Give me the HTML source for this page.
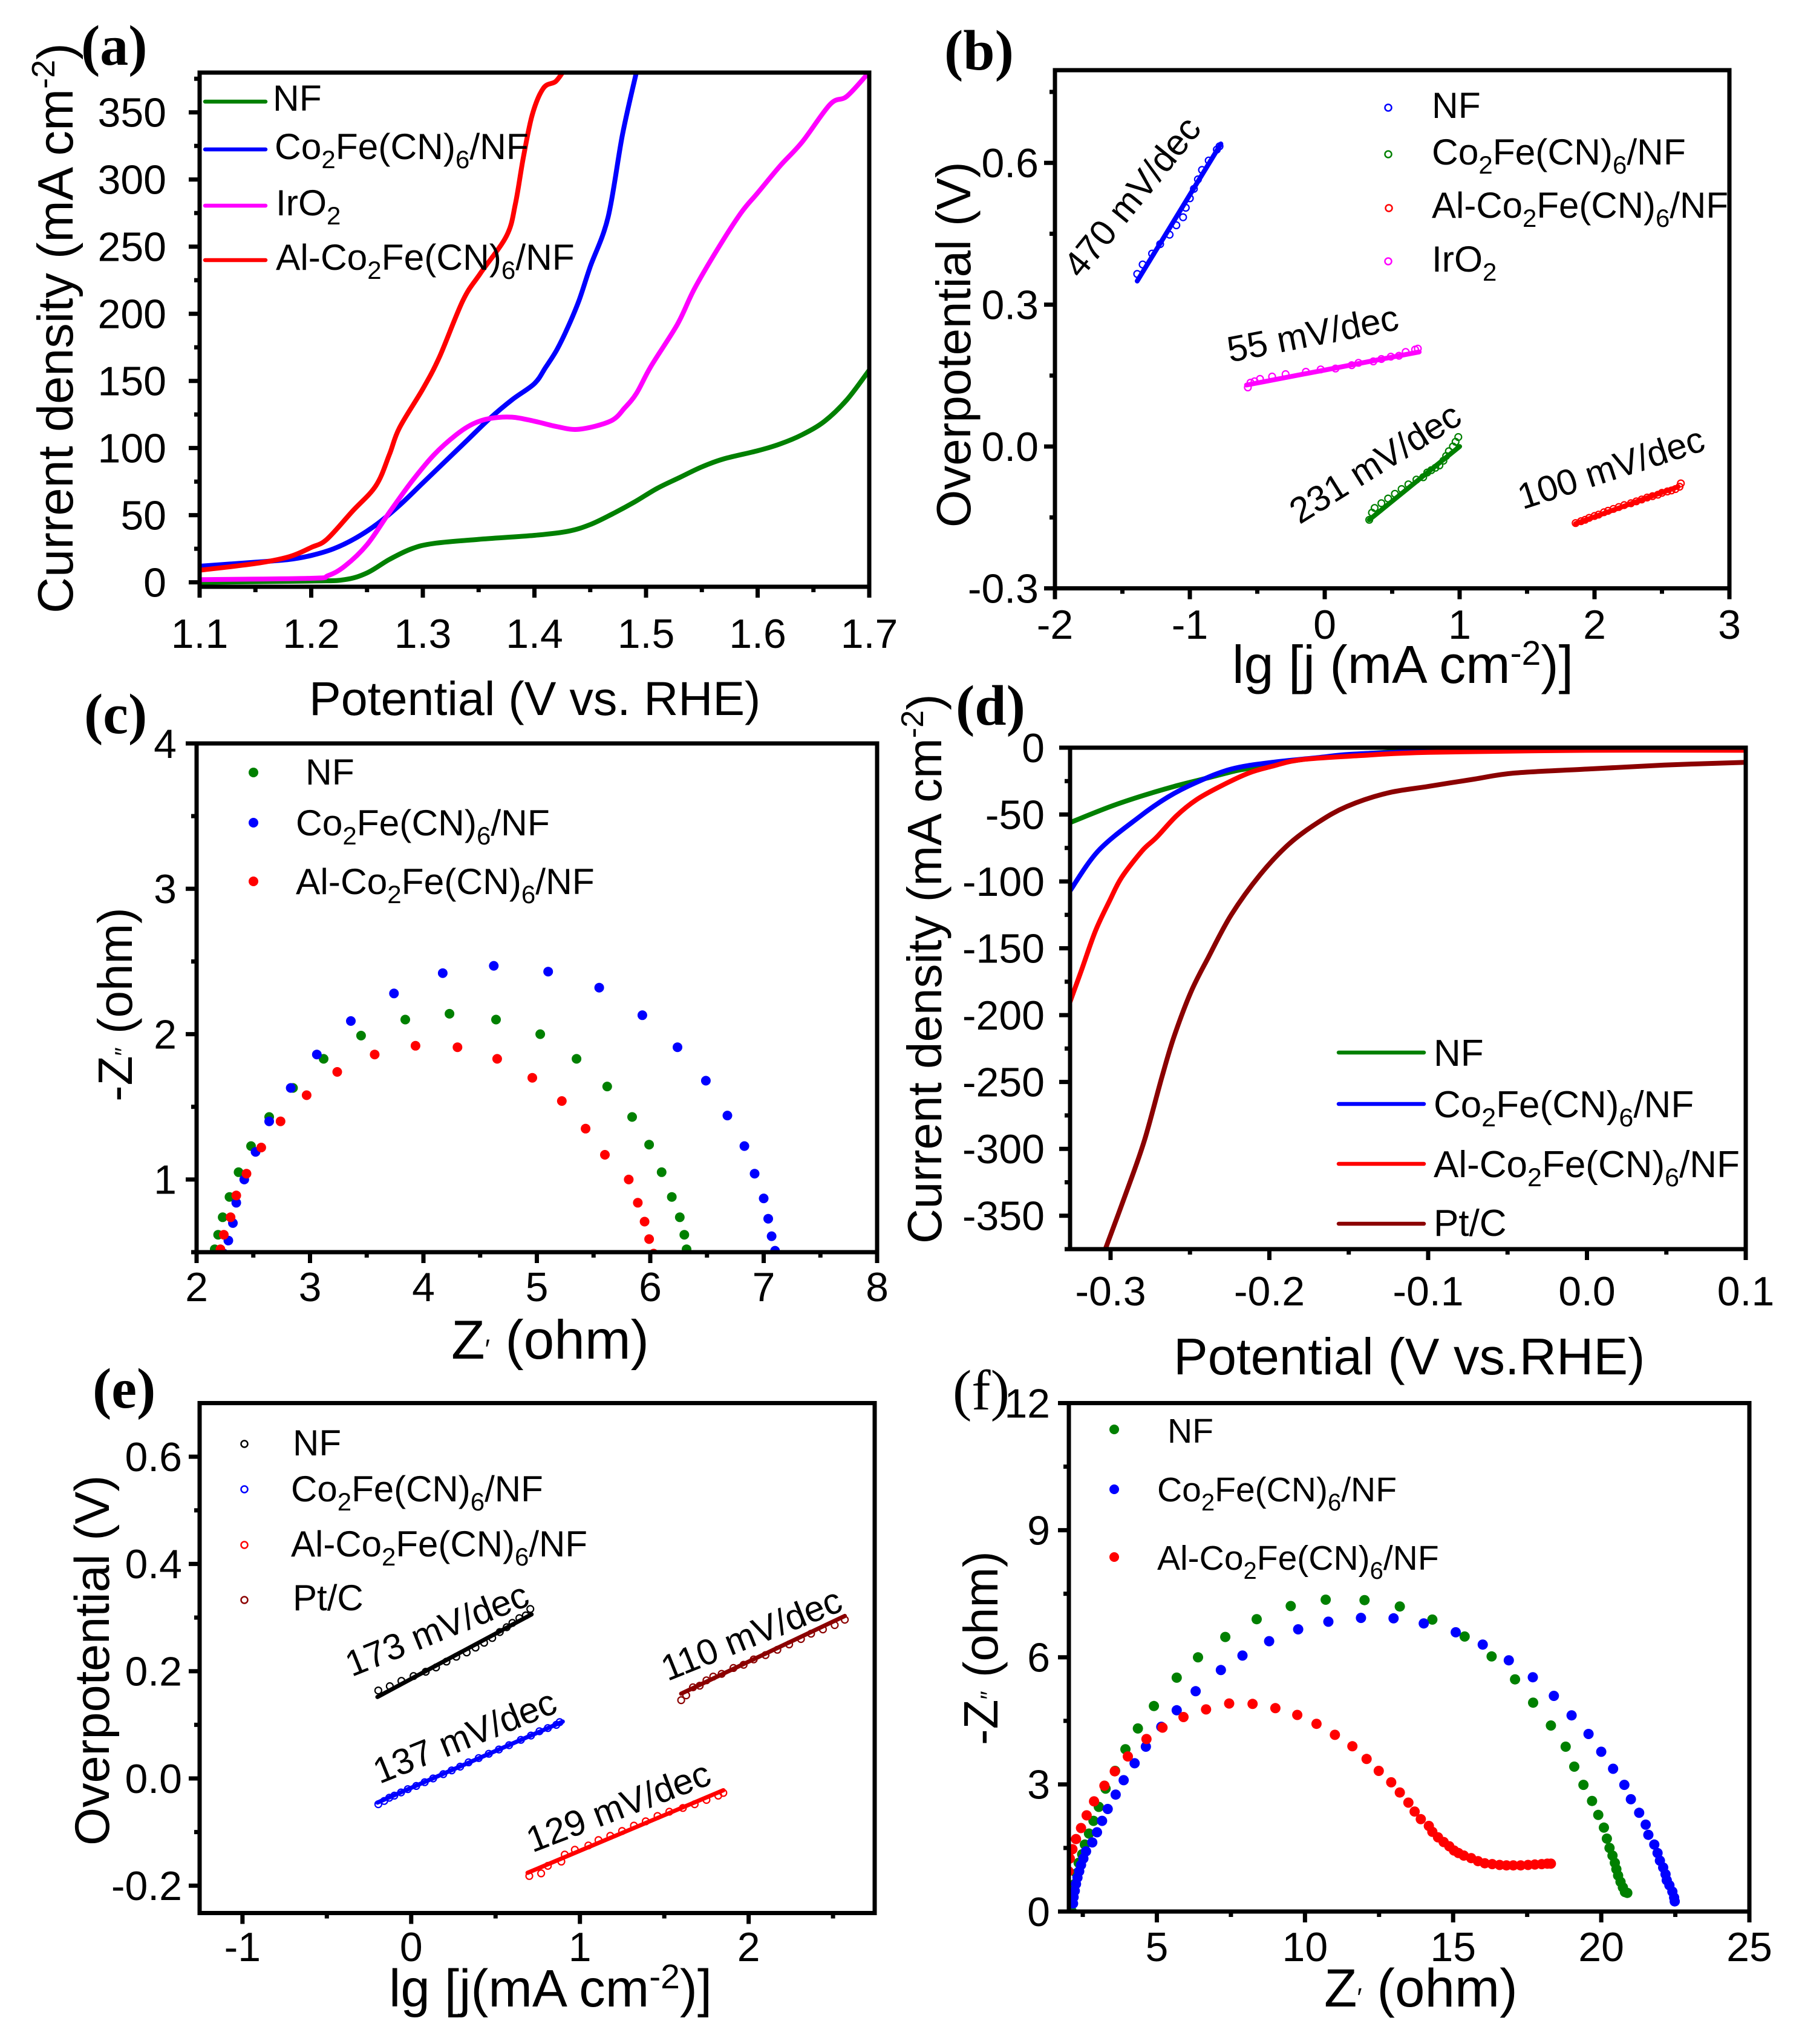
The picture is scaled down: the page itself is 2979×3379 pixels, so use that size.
<!DOCTYPE html>
<html lang="en">
<head>
<meta charset="utf-8">
<title>Electrocatalysis multi-panel figure</title>
<style>
html,body{margin:0;padding:0;background:#fff}
svg{display:block}
text{font-family:"Liberation Sans",sans-serif;fill:#000}
.pl{font-family:"Liberation Serif",serif;font-weight:bold;font-size:94px}
.lg{font-size:60.5px}
.tt{font-size:78px}
</style>
</head>
<body>
<svg id="fig" xmlns="http://www.w3.org/2000/svg" width="2979" height="3379" viewBox="0 0 2979 3379">
<rect width="2979" height="3379" fill="#fff"/>
<defs>
<clipPath id="clip-a"><rect x="330" y="120" width="1107" height="850"/></clipPath>
<clipPath id="clip-b"><rect x="1744" y="115" width="1115" height="858"/></clipPath>
<clipPath id="clip-c"><rect x="325" y="1229" width="1125" height="841"/></clipPath>
<clipPath id="clip-d"><rect x="1769" y="1236" width="1117" height="829"/></clipPath>
<clipPath id="clip-e"><rect x="330" y="2319" width="1116" height="844"/></clipPath>
<clipPath id="clip-f"><rect x="1767" y="2319" width="1125" height="841"/></clipPath>
</defs>
<g id="marks"></g>
<g id="axes"></g>

<text class="pl" x="134" y="107">(a)</text>
<text class="pl" x="1561" y="115">(b)</text>
<text class="pl" x="139" y="1212">(c)</text>
<text class="pl" x="1580" y="1198">(d)</text>
<text class="pl" x="153" y="2327">(e)</text>
<text class="pl" x="1575" y="2330" style="font-weight:normal">(f)</text>

<!-- axis titles -->
<text class="tt" style="font-size:83px" transform="translate(120,1014) rotate(-90)">Current density (mA cm<tspan dy="-30" font-size="54">-2</tspan><tspan dy="30">)</tspan></text>
<text class="tt" style="font-size:79px" x="511" y="1182">Potential (V vs. RHE)</text>
<text class="tt" style="font-size:80px" transform="translate(1604,872) rotate(-90)">Overpotential (V)</text>
<text class="tt" style="font-size:88px" x="2037" y="1129">lg [j (mA cm<tspan dy="-30" font-size="57">-2</tspan><tspan dy="30">)]</tspan></text>
<text class="tt" style="font-size:80px" transform="translate(218,1821) rotate(-90)">-Z<tspan font-size="40">″</tspan> (ohm)</text>
<text class="tt" style="font-size:91px" x="746" y="2246">Z<tspan font-size="45">′</tspan> (ohm)</text>
<text class="tt" style="font-size:80px" transform="translate(1556,2056) rotate(-90)">Current density (mA cm<tspan dy="-30" font-size="52">-2</tspan><tspan dy="30">)</tspan></text>
<text class="tt" style="font-size:85px" x="1940" y="2272">Potential (V vs.RHE)</text>
<text class="tt" style="font-size:81px" transform="translate(180,3051) rotate(-90)">Overpotential (V)</text>
<text class="tt" style="font-size:87px" x="643" y="3317">lg [j(mA cm<tspan dy="-30" font-size="57">-2</tspan><tspan dy="30">)]</tspan></text>
<text class="tt" style="font-size:80px" transform="translate(1649,2885) rotate(-90)">-Z<tspan font-size="40">″</tspan> (ohm)</text>
<text class="tt" style="font-size:89px" x="2189" y="3317">Z<tspan font-size="44">′</tspan> (ohm)</text>

<!-- legend a -->
<g stroke-width="6.5" stroke-linecap="round">
<line x1="339" y1="168" x2="439" y2="168" stroke="#008000"/>
<line x1="339" y1="247" x2="439" y2="247" stroke="#0000ff"/>
<line x1="339" y1="340" x2="439" y2="340" stroke="#ff00ff"/>
<line x1="339" y1="430" x2="439" y2="430" stroke="#ff0000"/>
<text class="lg" x="451" y="183">NF</text>
<text class="lg" x="454" y="263">Co<tspan dy="15" font-size="42">2</tspan><tspan dy="-15">Fe(CN)</tspan><tspan dy="15" font-size="42">6</tspan><tspan dy="-15">/NF</tspan></text>
<text class="lg" x="456" y="356">IrO<tspan dy="15" font-size="42">2</tspan></text>
<text class="lg" x="456" y="446">Al-Co<tspan dy="15" font-size="42">2</tspan><tspan dy="-15">Fe(CN)</tspan><tspan dy="15" font-size="42">6</tspan><tspan dy="-15">/NF</tspan></text>
</g>

<!-- legend b -->
<g fill="none" stroke-width="2.5">
<circle cx="2295" cy="178" r="5.5" stroke="#0000ff"/>
<circle cx="2295" cy="255" r="5.5" stroke="#008000"/>
<circle cx="2296" cy="344" r="5.5" stroke="#ff0000"/>
<circle cx="2295" cy="432" r="5.5" stroke="#ff00ff"/>
<text class="lg" stroke="none" x="2367" y="195">NF</text>
<text class="lg" stroke="none" x="2367" y="272">Co<tspan dy="15" font-size="42">2</tspan><tspan dy="-15">Fe(CN)</tspan><tspan dy="15" font-size="42">6</tspan><tspan dy="-15">/NF</tspan></text>
<text class="lg" stroke="none" style="font-size:60px" x="2367" y="360">Al-Co<tspan dy="15" font-size="42">2</tspan><tspan dy="-15">Fe(CN)</tspan><tspan dy="15" font-size="42">6</tspan><tspan dy="-15">/NF</tspan></text>
<text class="lg" stroke="none" x="2367" y="449">IrO<tspan dy="15" font-size="42">2</tspan></text>
</g>

<!-- legend c -->
<g>
<circle cx="419" cy="1277" r="8" fill="#008000"/>
<circle cx="419" cy="1360" r="8" fill="#0000ff"/>
<circle cx="419" cy="1457" r="8" fill="#ff0000"/>
<text class="lg" x="505" y="1297">NF</text>
<text class="lg" x="489" y="1381">Co<tspan dy="15" font-size="42">2</tspan><tspan dy="-15">Fe(CN)</tspan><tspan dy="15" font-size="42">6</tspan><tspan dy="-15">/NF</tspan></text>
<text class="lg" x="489" y="1478">Al-Co<tspan dy="15" font-size="42">2</tspan><tspan dy="-15">Fe(CN)</tspan><tspan dy="15" font-size="42">6</tspan><tspan dy="-15">/NF</tspan></text>
</g>

<!-- legend d -->
<g stroke-width="6.5" stroke-linecap="round">
<line x1="2213" y1="1740" x2="2354" y2="1740" stroke="#008000"/>
<line x1="2213" y1="1825" x2="2354" y2="1825" stroke="#0000ff"/>
<line x1="2213" y1="1924" x2="2354" y2="1924" stroke="#ff0000"/>
<line x1="2213" y1="2023" x2="2354" y2="2023" stroke="#8b0000"/>
<text class="lg" style="font-size:62px" stroke="none" x="2370" y="1762">NF</text>
<text class="lg" style="font-size:62px" stroke="none" x="2370" y="1847">Co<tspan dy="15" font-size="43">2</tspan><tspan dy="-15">Fe(CN)</tspan><tspan dy="15" font-size="43">6</tspan><tspan dy="-15">/NF</tspan></text>
<text class="lg" style="font-size:62px" stroke="none" x="2370" y="1946">Al-Co<tspan dy="15" font-size="43">2</tspan><tspan dy="-15">Fe(CN)</tspan><tspan dy="15" font-size="43">6</tspan><tspan dy="-15">/NF</tspan></text>
<text class="lg" style="font-size:62px" stroke="none" x="2370" y="2043">Pt/C</text>
</g>

<!-- legend e -->
<g fill="none" stroke-width="2.5">
<circle cx="404" cy="2387" r="5.5" stroke="#000"/>
<circle cx="404" cy="2462" r="5.5" stroke="#0000ff"/>
<circle cx="404" cy="2554" r="5.5" stroke="#ff0000"/>
<circle cx="404" cy="2645" r="5.5" stroke="#8b0000"/>
<text style="font-size:60px" stroke="none" x="484" y="2406">NF</text>
<text style="font-size:60px" stroke="none" x="481" y="2482">Co<tspan dy="15" font-size="42">2</tspan><tspan dy="-15">Fe(CN)</tspan><tspan dy="15" font-size="42">6</tspan><tspan dy="-15">/NF</tspan></text>
<text style="font-size:60px" stroke="none" x="481" y="2573">Al-Co<tspan dy="15" font-size="42">2</tspan><tspan dy="-15">Fe(CN)</tspan><tspan dy="15" font-size="42">6</tspan><tspan dy="-15">/NF</tspan></text>
<text style="font-size:60px" stroke="none" x="484" y="2662">Pt/C</text>
</g>

<!-- legend f -->
<g>
<circle cx="1842" cy="2363" r="8" fill="#008000"/>
<circle cx="1842" cy="2462" r="8" fill="#0000ff"/>
<circle cx="1842" cy="2574" r="8" fill="#ff0000"/>
<text style="font-size:57px" x="1930" y="2385">NF</text>
<text style="font-size:57px" x="1913" y="2482">Co<tspan dy="15" font-size="40">2</tspan><tspan dy="-15">Fe(CN)</tspan><tspan dy="15" font-size="40">6</tspan><tspan dy="-15">/NF</tspan></text>
<text style="font-size:57px" x="1913" y="2595">Al-Co<tspan dy="15" font-size="40">2</tspan><tspan dy="-15">Fe(CN)</tspan><tspan dy="15" font-size="40">6</tspan><tspan dy="-15">/NF</tspan></text>
</g>

<!-- slope annotations -->
<g style="font-size:60px" text-anchor="middle">
<text dy=".35em" transform="translate(1871,325) rotate(-51)">470 mV/dec</text>
<text dy=".35em" transform="translate(2170,551) rotate(-11)">55 mV/dec</text>
<text dy=".35em" transform="translate(2273,765) rotate(-32)">231 mV/dec</text>
<text dy=".35em" transform="translate(2663,773) rotate(-18)">100 mV/dec</text>
<text dy=".35em" transform="translate(722,2693) rotate(-22)">173 mV/dec</text>
<text dy=".35em" transform="translate(768,2870) rotate(-22)">137 mV/dec</text>
<text dy=".35em" transform="translate(1022,2986) rotate(-21)">129 mV/dec</text>
<text dy=".35em" transform="translate(1242,2701) rotate(-22)">110 mV/dec</text>
</g>
</svg>

<script>
// ---------- panel (a) data ----------
const aNfX=[1.1,1.2,1.23,1.25,1.27,1.29,1.31,1.35,1.4,1.43,1.45,1.47,1.49,1.51,1.53,1.55,1.57,1.6,1.62,1.64,1.66,1.68,1.7];
const aNfY=[0,1,2,7,17,25,29,32,35,38,43,51,60,70,78,86,92,98,103,110,120,136,158];
const aCoX=[1.1,1.15,1.18,1.2,1.22,1.24,1.26,1.28,1.3,1.32,1.34,1.36,1.38,1.4,1.41,1.42,1.43,1.44,1.45,1.466,1.479,1.492];
const aCoY=[12,15,17,20,25,33,44,58,74,90,106,122,136,148,160,173,190,210,235,272,334,382];
const aIrX=[1.1,1.2,1.215,1.23,1.25,1.27,1.29,1.31,1.33,1.345,1.36,1.38,1.4,1.42,1.44,1.468,1.481,1.4916,1.5045,1.528,1.543,1.564,1.585,1.6,1.62,1.64,1.665,1.68,1.7];
const aIrY=[2,3,5,12,28,52,75,95,110,118,122,123,120,116,114,120,130,141,161,192,218,248,275,290,310,328,356,362,380];
const aAlX=[1.1,1.15,1.18,1.2,1.214,1.237,1.258,1.27,1.279,1.3,1.315,1.336,1.3515,1.375,1.383,1.39,1.398,1.408,1.419,1.427];
const aAlY=[9,14,19,26,32,53,72,95,115,144,168,210,230,258,282,316,348,368,373,382];
const aXTicks=[1.1,1.2,1.3,1.4,1.5,1.6,1.7];
const aXLabels=['1.1','1.2','1.3','1.4','1.5','1.6','1.7'];
const aXMinor=[1.15,1.25,1.35,1.45,1.55,1.65];
const aYTicks=[0,50,100,150,200,250,300,350];
const aYLabels=['0','50','100','150','200','250','300','350'];
const aYMinor=[25,75,125,175,225,275,325,375];

// ---------- panel (b) data ----------
const bNfX=[-1.39,-1.35,-1.28,-1.22,-1.15,-1.10,-1.05,-1.03,-1.0,-0.97,-0.94,-0.91,-0.86,-0.80,-0.78];
const bNfY=[.365,.385,.408,.428,.448,.468,.485,.505,.525,.545,.565,.585,.605,.628,.635];
const bNfFitX=[-1.39,-0.77];
const bNfFitY=[.35,.64];
const bCoX=[.33,.35,.37,.42,.47,.52,.57,.62,.68,.73,.76,.79,.82,.85,.88,.90,.92,.95,.97,.99];
const bCoY=[-.155,-.14,-.13,-.12,-.11,-.10,-.09,-.08,-.07,-.065,-.055,-.05,-.045,-.04,-.03,-.02,-.01,0,.01,.02];
const bCoFitX=[.33,1.0];
const bCoFitY=[-.155,0];
const bAlX=[1.86,1.9,1.93,1.96,2.0,2.03,2.07,2.1,2.14,2.18,2.22,2.27,2.31,2.35,2.39,2.43,2.47,2.5,2.54,2.57,2.6,2.63,2.64];
const bAlY=[-.162,-.158,-.155,-.151,-.147,-.144,-.139,-.136,-.132,-.128,-.124,-.12,-.116,-.112,-.108,-.105,-.102,-.098,-.095,-.093,-.09,-.085,-.078];
const bAlFitX=[1.86,2.62];
const bAlFitY=[-.163,-.085];
const bIrX=[-.57,-.55,-.52,-.48,-.39,-.29,-.14,-.03,.08,.2,.25,.36,.42,.49,.55,.6,.67,.69];
const bIrY=[.125,.135,.138,.143,.148,.153,.158,.163,.165,.172,.177,.18,.185,.19,.192,.2,.205,.207];
const bIrFitX=[-.58,.7];
const bIrFitY=[.13,.2];
const bXTicks=[-2,-1,0,1,2,3];
const bXLabels=['-2','-1','0','1','2','3'];
const bXMinor=[-1.5,-.5,.5,1.5,2.5];
const bYTicks=[-.3,0,.3,.6];
const bYLabels=['-0.3','0.0','0.3','0.6'];
const bYMinor=[-.15,.15,.45,.75];

// ---------- panel (c) data ----------
const cNfX=[2.16,2.19,2.23,2.29,2.37,2.48,2.64,2.85,3.12,3.45,3.84,4.23,4.64,5.03,5.35,5.62,5.84,5.99,6.10,6.19,6.26,6.30,6.32];
const cNfY=[.52,.62,.74,.88,1.05,1.23,1.43,1.63,1.83,1.99,2.10,2.14,2.10,2.0,1.83,1.64,1.43,1.24,1.05,.88,.74,.62,.52];
const cCoX=[2.24,2.28,2.32,2.35,2.42,2.52,2.64,2.83,3.06,3.36,3.74,4.17,4.62,5.10,5.55,5.93,6.24,6.49,6.68,6.83,6.92,7.0,7.04,7.07,7.1];
const cCoY=[.49,.58,.70,.84,1.0,1.19,1.40,1.63,1.86,2.09,2.28,2.42,2.47,2.43,2.32,2.13,1.91,1.68,1.44,1.23,1.04,.87,.73,.61,.51];
const cAlX=[2.21,2.24,2.30,2.35,2.44,2.57,2.74,2.97,3.24,3.57,3.93,4.30,4.65,4.96,5.22,5.43,5.60,5.81,5.89,5.95,5.99,6.03];
const cAlY=[.52,.62,.74,.89,1.04,1.22,1.40,1.58,1.74,1.86,1.92,1.91,1.83,1.70,1.54,1.35,1.17,1.0,.84,.71,.59,.49];
const cXTicks=[2,3,4,5,6,7,8];
const cXLabels=['2','3','4','5','6','7','8'];
const cXMinor=[2.5,3.5,4.5,5.5,6.5,7.5];
const cYTicks=[1,2,3,4];
const cYLabels=['1','2','3','4'];
const cYMinor=[.5,1.5,2.5,3.5];

// ---------- panel (d) data ----------
const dNfX=[-.3255,-.3,-.28,-.26,-.24,-.22,-.2,-.18,-.16,-.14,-.12,-.1,-.05,0,.1];
const dNfY=[-56,-44,-36,-29,-23,-17,-13,-9,-6.5,-4.5,-3,-2,-.8,-.5,-.5];
const dCoX=[-.3255,-.3076,-.2822,-.264,-.246,-.224,-.1985,-.17,-.15,-.12,-.1,-.05,0,.1];
const dCoY=[-107,-77,-52,-37,-26,-16,-11,-7.5,-5,-3.5,-2.5,-1.5,-1,-1];
const dAlX=[-.3255,-.3185,-.3095,-.3004,-.293,-.28,-.271,-.2585,-.246,-.231,-.213,-.1985,-.18,-.144,-.1,0,.1];
const dAlY=[-190,-167,-137,-114,-97,-77,-67,-51,-39,-29,-19,-14,-9,-6,-3.5,-2,-2];
const dPtX=[-.3033,-.289,-.2785,-.2676,-.26,-.2495,-.2385,-.224,-.2058,-.1876,-.1695,-.1513,-.126,-.1,-.071,-.046,0,.0487,.1];
const dPtY=[-375,-329,-293,-246,-216,-183,-157,-125,-95,-72,-56,-44,-34,-29,-23.5,-19,-16,-13,-11];
const dXTicks=[-.3,-.2,-.1,0,.1];
const dXLabels=['-0.3','-0.2','-0.1','0.0','0.1'];
const dXMinor=[-.25,-.15,-.05,.05];
const dYTicks=[0,-50,-100,-150,-200,-250,-300,-350];
const dYLabels=['0','-50','-100','-150','-200','-250','-300','-350'];
const dYMinor=[-25,-75,-125,-175,-225,-275,-325,-375];

// ---------- panel (e) data ----------
const eNfX=[-.195,-.127,-.058,.014,.086,.147,.209,.267,.329,.381,.432,.48,.525,.566,.6,.641,.679,.706];
const eNfY=[.164,.172,.182,.191,.199,.207,.218,.227,.235,.244,.253,.262,.273,.282,.29,.299,.304,.316];
const eNfFitX=[-.2,.713];
const eNfFitY=[.152,.306];
const eCoX=[-.195,-.16,-.13,-.1,-.06,-.02,.03,.08,.13,.19,.24,.29,.34,.4,.46,.52,.58,.65,.71,.76,.81,.86,.88];
const eCoY=[-.048,-.042,-.036,-.032,-.026,-.02,-.014,-.007,0,.008,.015,.022,.03,.038,.046,.054,.062,.072,.08,.088,.094,.1,.105];
const eCoFitX=[-.2,.898];
const eCoFitY=[-.045,.106];
const eAlX=[.7,.77,.81,.89,.91,.97,1.05,1.11,1.18,1.25,1.32,1.39,1.46,1.53,1.61,1.68,1.75,1.82,1.85];
const eAlY=[-.182,-.177,-.163,-.155,-.142,-.133,-.125,-.115,-.107,-.098,-.088,-.08,-.07,-.062,-.055,-.048,-.04,-.032,-.027];
const eAlFitX=[.69,1.85];
const eAlFitY=[-.176,-.022];
const ePtX=[1.6,1.63,1.67,1.71,1.75,1.79,1.84,1.91,1.97,2.03,2.1,2.17,2.24,2.31,2.37,2.44,2.51,2.57];
const ePtY=[.146,.155,.17,.173,.183,.19,.195,.206,.212,.222,.23,.24,.25,.26,.27,.278,.286,.296];
const ePtFitX=[1.6,2.57];
const ePtFitY=[.158,.303];
const eXTicks=[-1,0,1,2];
const eXLabels=['-1','0','1','2'];
const eXMinor=[-.5,.5,1.5,2.5];
const eYTicks=[-.2,0,.2,.4,.6];
const eYLabels=['-0.2','0.0','0.2','0.4','0.6'];
const eYMinor=[-.1,.1,.3,.5];

// ---------- panel (f) data ----------
const fNfX=[2.13,2.17,2.23,2.29,2.36,2.48,2.57,2.71,2.86,3.04,3.27,3.59,3.94,4.36,4.90,5.67,6.39,7.31,8.37,9.52,10.70,12.01,13.2,14.3,15.39,16.3,17.09,17.7,18.3,18.8,19.09,19.4,19.69,19.9,20.09,20.19,20.28,20.38,20.46,20.51,20.57,20.65,20.73,20.8,20.88];
const fNfY=[0,.34,.65,.90,1.15,1.35,1.58,1.84,2.14,2.47,2.90,3.32,3.83,4.32,4.85,5.52,6.0,6.48,6.90,7.21,7.36,7.35,7.2,6.89,6.49,6.02,5.48,4.93,4.39,3.89,3.42,2.99,2.61,2.28,1.98,1.72,1.5,1.32,1.15,1.0,.85,.70,.57,.46,.44];
const fCoX=[2.17,2.19,2.23,2.27,2.32,2.38,2.44,2.52,2.61,2.82,2.98,3.15,3.34,3.61,3.88,4.25,4.63,5.15,5.67,6.31,7.16,7.89,8.79,9.77,10.79,11.89,12.99,14.01,15.09,16,16.88,17.69,18.4,19,19.57,20,20.4,20.78,21,21.28,21.5,21.59,21.79,21.9,21.98,22.09,22.17,22.21,22.3,22.4,22.46,22.48];
const fCoY=[.19,.34,.49,.65,.8,.95,1.1,1.25,1.42,1.63,1.87,2.14,2.42,2.76,3.1,3.5,3.89,4.36,4.75,5.2,5.7,6.04,6.38,6.66,6.84,6.93,6.92,6.8,6.59,6.3,5.93,5.53,5.09,4.63,4.19,3.77,3.37,2.99,2.65,2.33,2.05,1.81,1.58,1.38,1.2,1.04,.88,.74,.62,.47,.33,.24];
const fAlX=[2.02,2.06,2.15,2.27,2.44,2.63,2.88,3.23,3.58,4.02,4.65,5.19,5.9,6.66,7.44,8.23,9,9.74,10.39,11.01,11.6,12.08,12.49,12.91,13.2,13.49,13.7,13.91,14.18,14.3,14.49,14.68,14.87,15.03,15.18,15.36,15.61,15.84,16.07,16.32,16.57,16.8,17.03,17.28,17.53,17.76,17.99,18.18,18.3];
const fAlY=[.95,1.25,1.47,1.71,1.97,2.27,2.6,2.97,3.31,3.66,4.07,4.34,4.59,4.77,4.91,4.9,4.8,4.64,4.43,4.17,3.9,3.6,3.32,3.05,2.81,2.57,2.36,2.18,2.02,1.88,1.75,1.64,1.54,1.44,1.38,1.32,1.26,1.19,1.14,1.12,1.10,1.09,1.09,1.09,1.10,1.11,1.12,1.13,1.13];
const fXTicks=[5,10,15,20,25];
const fXLabels=['5','10','15','20','25'];
const fXMinor=[2.5,7.5,12.5,17.5,22.5];
const fYTicks=[0,3,6,9,12];
const fYLabels=['0','3','6','9','12'];
const fYMinor=[1.5,4.5,7.5,10.5];

const SVGNS='http://www.w3.org/2000/svg';
const marksRoot=document.getElementById('marks');
const axesRoot=document.getElementById('axes');

function panel(id,L,R,T,B,x0,x1,y0,y1,labelRight,xLabelBase,font){
  return {id:id,L:L,R:R,T:T,B:B,labelRight:labelRight,xLabelBase:xLabelBase,font:font,
    sx:function(v){return L+(v-x0)/(x1-x0)*(R-L);},
    sy:function(v){return B-(v-y0)/(y1-y0)*(B-T);}};
}
const pa=panel('a',330,1437,120,970,1.1,1.7,-3.3,379.6,275,1071,68);
const pb=panel('b',1744,2859,116,972.6,-2,3,-.3,.796,1717,1056,68);
const pc=panel('c',325,1450,1229,2070,2,8,.5,4,292,2151,68);
const pd=panel('d',1769,2886,1236,2065,-.3255,.1,-375,0,1727,2158,68);
const pe=panel('e',330,1446,2319.5,3162.5,-1.254,2.747,-.251,.70,301,3242,68);
const pf=panel('f',1767,2892,2319.5,3160,2.03,25,0,12,1736,3242,68);

function smoothPath(pts){
  let d='M'+pts[0][0].toFixed(1)+' '+pts[0][1].toFixed(1);
  for(let i=0;i<pts.length-1;i++){
    const p0=pts[Math.max(i-1,0)],p1=pts[i],p2=pts[i+1],p3=pts[Math.min(i+2,pts.length-1)];
    const c1x=p1[0]+(p2[0]-p0[0])/6,c1y=p1[1]+(p2[1]-p0[1])/6;
    const c2x=p2[0]-(p3[0]-p1[0])/6,c2y=p2[1]-(p3[1]-p1[1])/6;
    d+=' C'+c1x.toFixed(1)+' '+c1y.toFixed(1)+' '+c2x.toFixed(1)+' '+c2y.toFixed(1)+' '+p2[0].toFixed(1)+' '+p2[1].toFixed(1);
  }
  return d;
}
function drawLine(p,xs,ys,color,width,name){
  const el=document.createElementNS(SVGNS,'path');
  el.setAttribute('d',smoothPath(xs.map(function(v,i){return [p.sx(v),p.sy(ys[i])];})));
  el.setAttribute('fill','none');
  el.setAttribute('stroke',color);
  el.setAttribute('stroke-width',width);
  el.setAttribute('stroke-linejoin','round');
  el.setAttribute('stroke-linecap','round');
  el.setAttribute('clip-path','url(#clip-'+p.id+')');
  
  
  marksRoot.appendChild(el);
}
function drawDots(p,xs,ys,color,r,open,name){
  const g=document.createElementNS(SVGNS,'g');
  g.setAttribute('clip-path','url(#clip-'+p.id+')');
  
  
  xs.forEach(function(v,i){
    const c=document.createElementNS(SVGNS,'circle');
    c.setAttribute('cx',p.sx(v).toFixed(1));
    c.setAttribute('cy',p.sy(ys[i]).toFixed(1));
    c.setAttribute('r',r);
    c.setAttribute('fill',open?'none':color);
    if(open){c.setAttribute('stroke',color);c.setAttribute('stroke-width','2.2');}
    
    
    g.appendChild(c);
  });
  marksRoot.appendChild(g);
}
function tickMark(x1,y1,x2,y2,name){
  const t=document.createElementNS(SVGNS,'line');
  t.setAttribute('x1',x1);t.setAttribute('y1',y1);t.setAttribute('x2',x2);t.setAttribute('y2',y2);
  t.setAttribute('stroke','#000');t.setAttribute('stroke-width','7');
  
  
  axesRoot.appendChild(t);
}
function tickText(x,y,anchor,str,font,name){
  const t=document.createElementNS(SVGNS,'text');
  t.setAttribute('x',x);t.setAttribute('y',y);
  t.setAttribute('text-anchor',anchor);
  t.setAttribute('font-size',font);
  t.textContent=str;
  
  
  axesRoot.appendChild(t);
}
function drawAxes(p,xT,xL,xM,yT,yL,yM){
  const fr=document.createElementNS(SVGNS,'rect');
  fr.setAttribute('x',p.L);fr.setAttribute('y',p.T);
  fr.setAttribute('width',p.R-p.L);fr.setAttribute('height',p.B-p.T);
  fr.setAttribute('fill','none');fr.setAttribute('stroke','#000');fr.setAttribute('stroke-width','7');
  
  
  axesRoot.appendChild(fr);
  xT.forEach(function(v,i){
    const x=p.sx(v);
    tickMark(x,p.B,x,p.B+18,'x-tick-'+p.id);
    tickText(x,p.xLabelBase,'middle',xL[i],p.font,'x-tick-label-'+p.id);
  });
  xM.forEach(function(v){const x=p.sx(v);tickMark(x,p.B,x,p.B+9,'x-minor-tick-'+p.id);});
  yT.forEach(function(v,i){
    const y=p.sy(v);
    tickMark(p.L-18,y,p.L,y,'y-tick-'+p.id);
    tickText(p.labelRight,y+p.font*.35,'end',yL[i],p.font,'y-tick-label-'+p.id);
  });
  yM.forEach(function(v){const y=p.sy(v);tickMark(p.L-9,y,p.L,y,'y-minor-tick-'+p.id);});
}

// panel a
drawLine(pa,aNfX,aNfY,'#008000',8,'a-nf-curve');
drawLine(pa,aCoX,aCoY,'#0000ff',8,'a-co2fe-curve');
drawLine(pa,aIrX,aIrY,'#ff00ff',8,'a-iro2-curve');
drawLine(pa,aAlX,aAlY,'#ff0000',8,'a-al-curve');
drawAxes(pa,aXTicks,aXLabels,aXMinor,aYTicks,aYLabels,aYMinor);
// panel b
drawDots(pb,bNfX,bNfY,'#0000ff',5.5,true,'b-nf-points');
drawLine(pb,bNfFitX,bNfFitY,'#0000ff',8,'b-nf-fit');
drawDots(pb,bCoX,bCoY,'#008000',5.5,true,'b-co2fe-points');
drawLine(pb,bCoFitX,bCoFitY,'#008000',8,'b-co2fe-fit');
drawDots(pb,bAlX,bAlY,'#ff0000',5.5,true,'b-al-points');
drawLine(pb,bAlFitX,bAlFitY,'#ff0000',8,'b-al-fit');
drawDots(pb,bIrX,bIrY,'#ff00ff',5.5,true,'b-iro2-points');
drawLine(pb,bIrFitX,bIrFitY,'#ff00ff',8,'b-iro2-fit');
drawAxes(pb,bXTicks,bXLabels,bXMinor,bYTicks,bYLabels,bYMinor);
// panel c
drawDots(pc,cNfX,cNfY,'#008000',8,false,'c-nf-points');
drawDots(pc,cCoX,cCoY,'#0000ff',8,false,'c-co2fe-points');
drawDots(pc,cAlX,cAlY,'#ff0000',8,false,'c-al-points');
drawAxes(pc,cXTicks,cXLabels,cXMinor,cYTicks,cYLabels,cYMinor);
// panel d
drawLine(pd,dNfX,dNfY,'#008000',8,'d-nf-curve');
drawLine(pd,dCoX,dCoY,'#0000ff',8,'d-co2fe-curve');
drawLine(pd,dAlX,dAlY,'#ff0000',8,'d-al-curve');
drawLine(pd,dPtX,dPtY,'#8b0000',8,'d-ptc-curve');
drawAxes(pd,dXTicks,dXLabels,dXMinor,dYTicks,dYLabels,dYMinor);
// panel e
drawDots(pe,eNfX,eNfY,'#000000',5.5,true,'e-nf-points');
drawLine(pe,eNfFitX,eNfFitY,'#000000',7,'e-nf-fit');
drawDots(pe,eCoX,eCoY,'#0000ff',5.5,true,'e-co2fe-points');
drawLine(pe,eCoFitX,eCoFitY,'#0000ff',7,'e-co2fe-fit');
drawDots(pe,eAlX,eAlY,'#ff0000',5.5,true,'e-al-points');
drawLine(pe,eAlFitX,eAlFitY,'#ff0000',7,'e-al-fit');
drawDots(pe,ePtX,ePtY,'#8b0000',5.5,true,'e-ptc-points');
drawLine(pe,ePtFitX,ePtFitY,'#8b0000',7,'e-ptc-fit');
drawAxes(pe,eXTicks,eXLabels,eXMinor,eYTicks,eYLabels,eYMinor);
// panel f
drawDots(pf,fNfX,fNfY,'#008000',8.5,false,'f-nf-points');
drawDots(pf,fCoX,fCoY,'#0000ff',8.5,false,'f-co2fe-points');
drawDots(pf,fAlX,fAlY,'#ff0000',8.5,false,'f-al-points');
drawAxes(pf,fXTicks,fXLabels,fXMinor,fYTicks,fYLabels,fYMinor);
</script>
</body>
</html>
